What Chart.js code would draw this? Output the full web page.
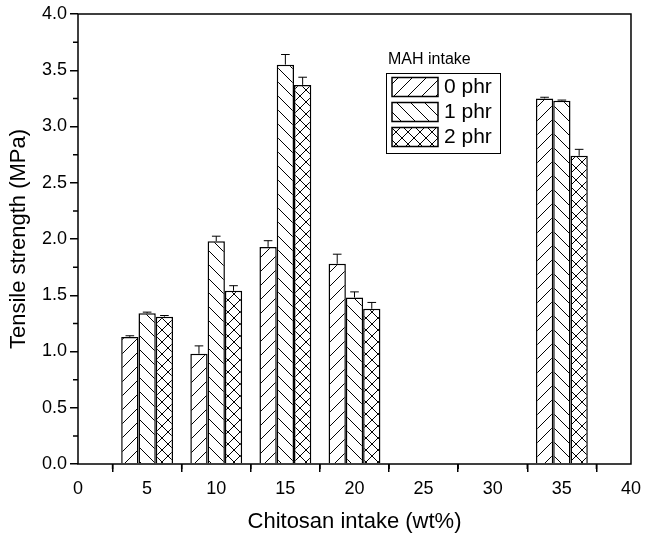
<!DOCTYPE html>
<html>
<head>
<meta charset="utf-8">
<script src="https://cdn.jsdelivr.net/npm/chart.js@4"></script>
<style>
  html, body { margin: 0; padding: 0; background: #fff; }
  #wrap { width: 647px; height: 533px; position: relative; }
</style>
</head>
<body>
<div id="wrap"><canvas id="grafico"></canvas></div>
<script>
const chitosan = [5, 10, 15, 20, 35];
const mah0 = [1.13, 0.98, 1.93, 1.78, 3.25];
const mah1 = [1.34, 1.98, 3.55, 1.48, 3.23];
const mah2 = [1.31, 1.54, 3.37, 1.38, 2.74];
const err0 = [0.01, 0.07, 0.055, 0.085, 0.01];
const err1 = [0.01, 0.045, 0.09, 0.05, 0.005];
const err2 = [0.01, 0.045, 0.068, 0.056, 0.057];
const serieNomes = ['0 phr', '1 phr', '2 phr'];
const legendaTitulo = 'MAH intake';

const FONTE = '"Liberation Sans", Arial, sans-serif';

function criarHachura(tipo) {
  const s = tipo === 'x' ? 12 : 14;
  const c = document.createElement('canvas');
  c.width = s; c.height = s;
  const g = c.getContext('2d');
  g.fillStyle = '#fff';
  g.fillRect(0, 0, s, s);
  g.strokeStyle = '#000';
  g.lineWidth = 1;
  const barra = () => {
    g.beginPath();
    g.moveTo(-2, s + 2); g.lineTo(s + 2, -2);
    g.moveTo(-2, 2); g.lineTo(2, -2);
    g.moveTo(s - 2, s + 2); g.lineTo(s + 2, s - 2);
    g.stroke();
  };
  const contra = () => {
    g.beginPath();
    g.moveTo(-2, -2); g.lineTo(s + 2, s + 2);
    g.moveTo(s - 2, -2); g.lineTo(s + 2, 2);
    g.moveTo(-2, s - 2); g.lineTo(2, s + 2);
    g.stroke();
  };
  if (tipo === '/') barra();
  if (tipo === '\\') contra();
  if (tipo === 'x') { barra(); contra(); }
  return g.createPattern(c, 'repeat');
}

const hachuras = [criarHachura('/'), criarHachura('\\'), criarHachura('x')];
const valores = [mah0, mah1, mah2];
const erros = [err0, err1, err2];

const datasets = valores.map((serie, i) => ({
  label: serieNomes[i],
  data: chitosan.map((x, j) => ({ x: x, y: serie[j] })),
  erros: erros[i],
  backgroundColor: hachuras[i],
  borderColor: '#000',
  borderWidth: 1.5,
  categoryPercentage: 0.75,
  barPercentage: 1.0
}));

const pluginMoldura = {
  id: 'moldura',
  afterDatasetsDraw(chart) {
    const ctx = chart.ctx;
    const y = chart.scales.y;
    ctx.save();
    ctx.strokeStyle = '#000';
    ctx.lineWidth = 1;
    chart.data.datasets.forEach((ds, i) => {
      const meta = chart.getDatasetMeta(i);
      meta.data.forEach((bar, j) => {
        const topo = y.getPixelForValue(ds.data[j].y + ds.erros[j]);
        const meio = bar.width / 4;
        ctx.beginPath();
        ctx.moveTo(bar.x, bar.y);
        ctx.lineTo(bar.x, topo);
        ctx.moveTo(bar.x - meio, topo);
        ctx.lineTo(bar.x + meio, topo);
        ctx.stroke();
      });
    });
    ctx.restore();
  },
  afterDraw(chart) {
    const ctx = chart.ctx;
    const a = chart.chartArea;
    const xs = chart.scales.x;
    const ys = chart.scales.y;
    ctx.save();
    ctx.strokeStyle = '#000';
    ctx.lineWidth = 1.5;
    ctx.strokeRect(a.left, a.top, a.right - a.left, a.bottom - a.top);

    // ticks menores
    ctx.beginPath();
    for (let k = 1; k < xs.ticks.length; k++) {
      const v = (xs.ticks[k - 1].value + xs.ticks[k].value) / 2;
      const px = xs.getPixelForValue(v);
      ctx.moveTo(px, a.bottom); ctx.lineTo(px, a.bottom + 5);
    }
    for (let k = 1; k < ys.ticks.length; k++) {
      const v = (ys.ticks[k - 1].value + ys.ticks[k].value) / 2;
      const py = ys.getPixelForValue(v);
      ctx.moveTo(a.left, py); ctx.lineTo(a.left - 5, py);
    }
    ctx.stroke();

    // legenda
    const lx = 386, ly = 73, lw = 114, lh = 80;
    ctx.fillStyle = '#000';
    ctx.font = '16px ' + FONTE;
    ctx.textBaseline = 'middle';
    ctx.textAlign = 'left';
    ctx.fillText(legendaTitulo, 388, 60);
    ctx.lineWidth = 1;
    ctx.strokeRect(lx + 0.5, ly + 0.5, lw, lh);
    ctx.font = '21px ' + FONTE;
    chart.data.datasets.forEach((ds, i) => {
      const cy = 86.5 + i * 25;
      ctx.fillStyle = ds.backgroundColor;
      ctx.fillRect(392, cy - 9, 46, 19);
      ctx.strokeStyle = '#000';
      ctx.lineWidth = 1.5;
      ctx.strokeRect(392, cy - 9, 46, 19);
      ctx.fillStyle = '#000';
      ctx.fillText(ds.label, 444, cy + 1);
    });
    ctx.restore();
  }
};

new Chart(document.getElementById('grafico').getContext('2d'), {
  type: 'bar',
  data: { datasets: datasets },
  options: {
    responsive: true,
    maintainAspectRatio: false,
    animation: false,
    layout: { padding: { left: 0, top: 14, right: 10, bottom: 0 } },
    plugins: {
      legend: { display: false },
      tooltip: { enabled: false }
    },
    scales: {
      x: {
        type: 'linear',
        offset: false,
        min: 0,
        max: 40,
        afterFit(scale) { scale.height = 69; },
        ticks: {
          stepSize: 5,
          padding: 6,
          color: '#000',
          font: { family: FONTE, size: 18 },
          maxRotation: 0
        },
        grid: {
          drawOnChartArea: false,
          drawTicks: true,
          tickLength: 8,
          color: '#000',
          lineWidth: 1.5
        },
        border: { display: false },
        title: {
          display: true,
          text: 'Chitosan intake (wt%)',
          color: '#000',
          font: { family: FONTE, size: 22, lineHeight: 1 },
          padding: { top: 0, bottom: 0 }
        }
      },
      y: {
        min: 0,
        max: 4,
        afterFit(scale) { scale.width = 78; },
        ticks: {
          stepSize: 0.5,
          padding: 3,
          color: '#000',
          font: { family: FONTE, size: 18 },
          callback: v => v.toFixed(1)
        },
        grid: {
          drawOnChartArea: false,
          drawTicks: true,
          tickLength: 8,
          color: '#000',
          lineWidth: 1.5
        },
        border: { display: false },
        title: {
          display: true,
          text: 'Tensile strength (MPa)',
          color: '#000',
          font: { family: FONTE, size: 22, lineHeight: 1 },
          padding: { top: 8, bottom: 0 }
        }
      }
    }
  },
  plugins: [pluginMoldura]
});
</script>
</body>
</html>
